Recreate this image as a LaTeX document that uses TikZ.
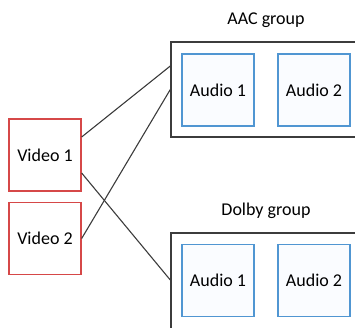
\documentclass[tikz,border=0pt]{standalone}
\usepackage{fontspec}
\setmainfont{Carlito}
\usetikzlibrary{calc}
\definecolor{vred}{RGB}{214,72,72}
\definecolor{ablue}{RGB}{80,150,210}
\definecolor{afill}{RGB}{250,252,255}
\definecolor{gline}{RGB}{60,60,60}
\begin{document}
\begin{tikzpicture}[x=1pt,y=-1pt,
  every node/.style={font=\fontsize{18}{20}\selectfont},
  videobox/.style={draw=vred,line width=1.3pt,fill=white,minimum width=72pt,minimum height=72pt,inner sep=0pt},
  audiobox/.style={draw=ablue,line width=1.5pt,fill=afill,minimum width=72pt,minimum height=72pt,inner sep=0pt},
  groupbox/.style={draw=gline,line width=1.4pt,fill=white,inner sep=0pt},
  link/.style={draw=gline,line width=1.1pt},
  grouplabel/.style={inner sep=0pt,anchor=base}]
\useasboundingbox (0,0) rectangle (355,327);
\clip (0,0) rectangle (355,327);
% groups
\node[groupbox,minimum width=190pt,minimum height=95pt] (aac) at (266,89.5) {};
\node[groupbox,minimum width=190pt,minimum height=99pt] (dolby) at (266,282.5) {};
\node[grouplabel] (aacl) at (266,24) {AAC group};
\node[grouplabel] (dolbyl) at (266,215) {Dolby group};
\node[audiobox] (a1) at (218,90) {Audio 1};
\node[audiobox] (a2) at (314,90) {Audio 2};
\node[audiobox] (d1) at (218,280.5) {Audio 1};
\node[audiobox] (d2) at (314,280.5) {Audio 2};
% videos
\node[videobox] (v1) at (45,155) {Video 1};
\node[videobox] (v2) at (45,238.5) {Video 2};
% anchor points
\coordinate (v1a) at ($(v1.east)+(0,-18)$);
\coordinate (v1b) at ($(v1.east)+(0,18)$);
\coordinate (aaca) at ($(aac.west)+(0,-23.5)$);
\coordinate (aacb) at (aac.west);
\coordinate (dola) at ($(dolby.west)+(0,-2.5)$);
\draw[link] (v1a) -- (aaca);
\draw[link] (v2.east) -- (aacb);
\draw[link] (v1b) -- (dola);
\end{tikzpicture}
\end{document}
